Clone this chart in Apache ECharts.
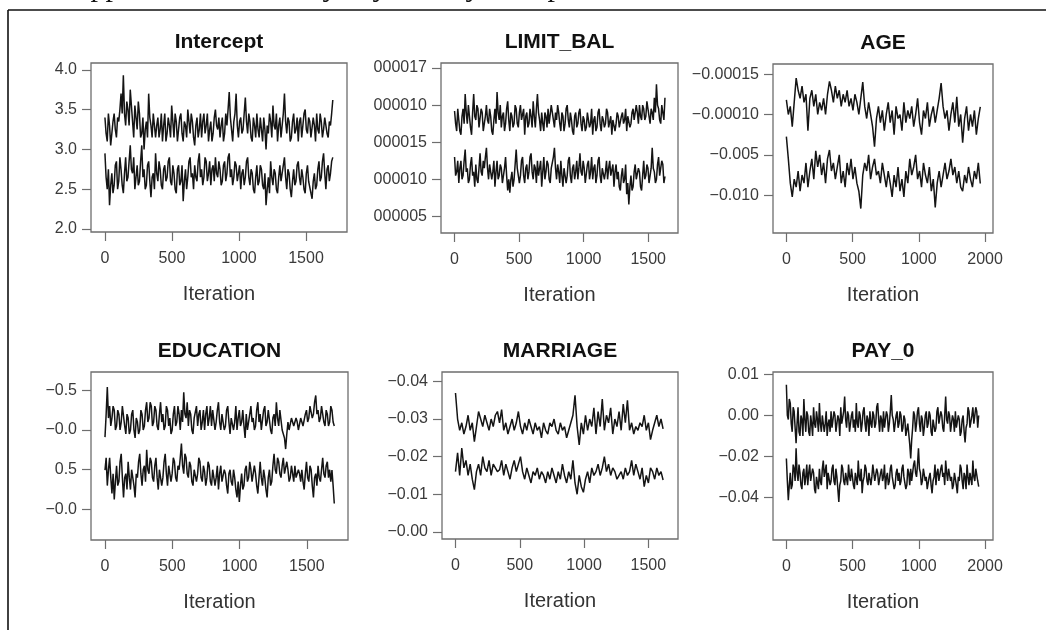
<!DOCTYPE html>
<html>
<head>
<meta charset="utf-8">
<title>Trace plots</title>
<script src="https://cdn.jsdelivr.net/npm/echarts@6/dist/echarts.min.js"></script>
<style>
  html, body { margin: 0; padding: 0; background: #fff; }
  #chart { width: 1046px; height: 630px; }
</style>
</head>
<body>
<div id="chart"></div>
<script>
// two MCMC chains per coefficient, thinned; y values are in tick-slot units
// (slot 0 = lowest tick label, slot 1 = next one up ...), since the printed labels are not a real scale
var interceptA = [2.8,2.4,2.2,2.9,2.6,2.1,2.4,2.7,2.9,2.5,2.3,2.8,2.7,3.0,3.4,2.9,3.86,2.9,2.6,3.2,3.0,2.6,3.5,3.1,2.7,2.3,3.1,2.8,2.5,3.2,2.9,2.3,2.4,2.8,2.0,2.5,2.7,2.3,3.4,2.8,2.6,2.3,2.9,2.6,2.3,2.6,2.8,2.3,2.5,2.9,2.2,2.6,2.9,2.2,2.4,2.8,2.6,2.3,3.1,2.7,2.3,2.9,2.7,2.2,2.5,2.8,2.9,2.4,2.2,2.7,2.6,2.3,3.0,2.7,2.4,2.9,2.7,2.3,2.1,2.6,2.8,2.3,2.5,2.9,2.3,2.7,2.9,2.4,2.6,2.9,2.2,2.5,2.7,2.2,2.4,2.8,3.0,2.6,2.5,2.8,2.3,2.6,2.8,2.2,2.4,2.9,2.6,3.0,3.44,2.8,2.5,2.2,2.7,2.9,3.4,2.6,2.3,2.7,2.8,2.4,2.5,2.9,3.3,2.7,2.4,2.9,2.7,2.3,2.2,2.8,2.6,2.3,2.9,2.5,2.3,2.8,2.5,2.2,2.8,2.5,2.0,2.6,2.4,2.9,2.7,2.3,3.1,2.6,2.5,2.9,2.2,2.6,2.8,2.3,2.6,2.9,3.4,2.7,2.4,2.8,2.7,2.2,2.3,2.7,2.9,2.4,2.5,2.8,2.2,2.7,2.8,2.3,2.6,2.9,3.0,2.5,2.4,2.8,2.7,2.3,2.3,2.8,2.6,2.2,2.9,2.5,2.4,2.9,2.7,2.3,2.5,2.8,2.8,2.4,2.3,2.7,2.6,2.9,3.24];
var interceptB = [1.9,1.3,1.0,1.5,0.6,1.1,1.4,0.9,1.1,1.6,1.7,1.0,1.2,1.8,1.5,1.1,0.9,1.4,1.8,1.2,1.3,1.7,2.1,1.5,1.4,1.8,1.0,1.3,1.6,1.1,1.2,1.7,2.1,1.3,1.5,1.0,1.1,1.6,1.7,1.2,0.8,1.3,1.4,1.0,1.9,1.4,1.2,1.7,1.5,1.1,1.0,1.5,1.6,1.2,1.3,1.7,1.8,1.2,1.1,1.6,1.4,1.0,0.9,1.5,1.6,1.1,1.2,1.6,0.7,1.2,1.5,1.0,1.3,1.7,1.8,1.3,1.4,1.0,1.6,1.3,1.2,1.7,1.9,1.3,1.5,1.1,1.3,1.8,1.7,1.2,1.4,1.7,1.1,1.5,1.6,1.2,1.8,1.4,1.3,1.7,1.5,1.1,1.2,1.6,1.7,1.2,1.4,1.8,1.9,1.3,1.5,1.1,1.3,1.7,1.6,1.2,1.2,1.6,1.0,1.4,1.5,1.1,1.3,1.7,1.8,1.3,1.1,1.5,1.4,1.0,0.9,1.3,1.6,1.1,1.2,1.6,1.5,1.1,1.0,1.4,0.6,1.0,1.3,0.9,1.7,1.3,1.1,1.5,1.4,1.0,0.9,1.3,1.6,1.2,1.2,1.6,1.8,1.3,1.0,1.5,1.4,1.0,0.8,1.2,1.5,1.1,1.2,1.6,1.7,1.3,1.1,1.5,1.3,1.0,0.9,1.4,1.6,1.2,1.2,0.9,0.76,1.2,1.4,1.0,1.1,1.5,1.7,1.2,1.3,1.7,1.9,1.4,1.0,1.5,1.6,1.2,1.4,1.7,1.8];
var limitBalA = [2.84,2.5,2.3,2.9,2.6,2.3,2.2,2.7,2.9,2.5,3.3,2.8,2.5,3.0,2.7,2.4,2.2,2.8,3.3,2.7,2.6,3.0,2.9,2.4,2.4,2.9,2.8,2.3,2.3,2.7,3.0,2.6,2.5,2.9,2.7,2.3,2.2,2.6,2.9,2.5,3.35,2.8,2.6,3.0,2.4,2.7,2.8,2.3,2.5,2.9,3.1,2.6,2.3,2.8,2.7,2.4,2.5,3.0,2.9,2.5,2.4,2.8,3.0,2.6,2.6,2.9,2.2,2.7,2.8,2.4,2.5,2.9,2.7,2.4,3.1,2.7,2.4,2.9,3.3,2.8,2.6,2.3,2.8,2.5,2.3,2.8,2.7,2.4,2.9,2.5,2.5,3.0,3.0,2.6,2.4,2.8,2.6,3.0,2.8,2.5,2.3,2.8,2.7,2.3,2.5,2.9,3.0,2.6,2.4,2.8,2.6,2.3,2.2,2.7,2.8,2.4,2.5,2.8,2.9,2.5,2.3,2.7,2.6,2.3,2.4,2.8,2.8,2.4,2.5,2.9,2.2,2.6,2.7,2.3,2.4,2.8,2.9,2.5,2.3,2.7,2.6,2.4,2.5,2.9,2.8,2.4,2.4,2.7,2.2,2.6,2.6,2.3,2.5,2.8,2.7,2.4,2.4,2.7,2.8,2.5,2.6,2.9,2.3,2.7,2.7,2.4,2.5,2.8,2.9,2.6,2.6,3.0,2.8,2.5,3.0,2.7,2.6,3.0,2.9,2.6,2.7,3.1,3.1,2.7,2.5,2.9,2.8,2.6,3.2,2.8,3.56,3.0,2.9,2.6,2.5,3.0,2.8,2.6,3.2];
var limitBalB = [1.6,1.1,1.2,1.5,0.9,1.3,1.5,1.0,1.1,1.5,1.8,1.2,1.3,0.9,1.0,1.4,1.6,1.1,1.2,0.8,1.4,1.0,0.9,1.3,1.7,1.2,1.1,1.5,1.3,1.6,1.85,1.3,1.0,1.4,1.4,1.0,1.2,1.5,0.8,1.2,1.5,1.0,1.1,1.4,1.3,0.9,0.9,1.3,1.6,1.1,0.7,1.0,0.64,1.0,1.2,0.8,1.0,1.4,1.8,1.3,1.3,0.9,1.1,1.5,1.6,1.1,0.9,1.3,1.4,1.0,1.2,1.6,1.7,1.2,1.0,1.4,1.3,0.9,1.5,1.1,1.1,1.5,0.8,1.2,1.6,1.0,1.2,1.5,1.4,1.0,0.9,1.3,1.3,1.6,1.85,1.3,1.0,1.4,1.2,0.9,1.5,1.1,0.8,1.3,1.3,0.9,1.1,1.5,1.6,1.1,0.9,1.3,1.4,1.0,1.2,1.5,1.0,1.3,1.7,1.2,1.1,1.5,1.3,0.9,0.9,1.4,1.5,1.0,1.2,1.6,1.0,1.3,1.4,0.9,1.1,1.5,1.6,1.1,0.9,1.3,1.3,1.0,1.2,1.5,1.0,1.3,1.5,1.1,1.1,1.4,0.8,1.2,1.4,1.0,1.2,0.8,0.7,1.1,1.3,0.9,1.0,1.4,0.6,0.9,0.32,0.8,1.1,0.7,0.8,1.2,1.4,1.0,1.0,1.3,1.2,0.8,0.7,1.1,1.5,1.0,1.1,1.4,1.3,0.9,0.9,1.3,1.85,1.3,1.2,0.9,1.0,1.4,1.6,1.1,1.1,1.5,1.4,0.9,1.08];
var ageA = [2.36,2.0,2.2,1.7,2.3,2.9,2.6,2.4,2.7,2.3,2.5,1.6,2.4,2.6,2.2,2.5,2.0,2.3,2.1,2.4,2.0,2.5,2.82,2.6,2.3,2.7,2.4,2.6,2.2,2.5,2.3,2.6,2.2,2.4,2.1,2.5,2.3,2.0,2.4,2.8,2.2,1.9,2.3,2.0,1.7,1.2,1.9,2.2,1.8,2.1,1.6,2.0,2.3,1.8,2.1,1.5,2.2,1.9,2.0,1.6,2.3,1.8,2.1,1.9,2.2,1.7,2.0,2.4,1.8,1.5,2.1,1.9,2.3,1.7,2.0,2.2,1.8,2.1,2.4,2.78,2.2,1.9,2.1,1.6,2.0,2.3,1.8,2.44,1.7,2.0,1.3,1.9,2.2,1.6,2.0,1.7,2.1,1.5,1.9,2.19];
var ageB = [1.45,0.9,0.3,-0.04,0.4,0.2,0.6,0.1,0.5,0.3,0.8,0.2,0.6,0.9,0.4,1.1,0.7,1.0,0.5,0.8,0.3,0.9,1.12,0.6,0.8,0.4,0.7,1.0,0.3,0.6,0.2,0.8,0.5,0.9,0.4,0.7,0.3,0.1,-0.33,0.5,0.8,0.6,1.0,0.4,0.7,0.9,0.5,0.6,0.3,0.8,0.5,0.2,0.6,0.3,-0.04,0.5,0.2,0.7,0.1,0.4,-0.04,0.6,0.3,0.9,0.5,0.7,1.0,0.4,0.6,0.2,0.8,0.5,0.3,0.7,0.1,0.4,-0.3,0.3,0.6,0.2,0.5,0.8,0.4,0.6,0.9,0.5,0.7,0.3,0.6,0.2,0.1,0.5,0.3,0.7,0.4,0.2,0.6,0.4,0.8,0.29];
var educationA = [1.82,2.4,3.08,2.3,2.6,2.1,2.3,2.6,2.5,2.0,2.1,2.5,2.4,2.0,2.2,2.6,2.6,2.1,1.9,2.4,2.3,1.9,2.0,2.4,2.5,2.0,1.8,2.3,2.2,1.9,2.0,2.5,2.4,2.0,2.1,2.5,2.7,2.2,2.3,2.7,2.6,2.1,2.2,2.6,2.5,2.1,2.0,2.4,2.7,2.2,2.4,2.0,2.1,2.6,2.5,2.1,2.3,1.9,2.0,2.4,2.6,2.1,2.2,2.6,2.4,2.0,2.5,2.2,2.95,2.4,2.3,2.7,2.1,2.5,2.4,2.0,1.9,2.3,2.3,2.6,2.1,2.4,2.5,2.0,2.2,2.5,2.0,2.4,2.6,2.1,2.3,2.6,2.1,2.5,2.5,2.0,2.2,2.5,2.7,2.2,2.0,2.4,2.4,2.0,2.1,2.5,2.6,2.2,1.9,2.3,2.3,2.0,2.2,2.6,2.0,2.3,2.5,2.1,2.2,2.5,2.1,1.8,2.4,2.0,2.0,2.4,2.6,2.2,2.3,2.0,2.1,2.5,2.7,2.2,2.4,2.0,2.0,2.5,2.6,2.1,2.2,2.5,2.5,2.0,1.9,2.3,2.4,2.1,2.7,2.3,2.1,2.5,2.5,2.0,2.0,1.8,1.52,1.9,2.2,2.0,2.0,2.3,2.3,2.1,2.1,2.3,2.2,2.0,2.0,2.3,2.3,2.1,2.1,2.4,2.5,2.2,2.3,2.6,2.6,2.3,2.4,2.7,2.87,2.4,2.5,2.2,2.3,2.6,2.6,2.2,2.1,2.5,2.4,2.1,2.2,2.6,2.5,2.2,2.1];
var educationB = [0.99,1.3,0.6,1.0,1.3,0.8,0.4,0.9,0.25,0.7,1.1,0.6,0.7,1.2,1.4,0.8,0.3,0.8,0.9,0.5,1.2,0.8,0.5,1.0,1.0,0.6,0.3,0.9,0.8,1.2,1.4,0.9,0.6,1.0,1.1,0.7,1.5,1.0,0.9,1.3,1.2,0.8,0.7,1.1,1.3,0.8,0.5,1.0,1.0,0.6,0.8,1.2,1.4,0.9,0.6,1.1,1.1,0.7,0.9,1.3,1.2,0.8,0.7,1.1,1.0,1.3,1.66,1.1,0.9,1.4,1.3,0.9,0.8,1.2,1.1,0.7,0.6,1.0,1.0,0.7,0.9,1.3,1.2,0.8,0.7,1.1,0.95,0.6,0.8,1.2,1.1,0.7,0.6,1.0,1.0,0.6,0.8,1.1,0.5,0.9,1.1,0.7,0.7,1.0,0.9,0.6,0.4,0.9,1.0,0.7,0.6,1.0,0.8,0.5,0.3,0.7,0.19,0.6,0.9,0.5,0.6,1.0,1.1,0.7,0.8,1.2,1.0,0.7,0.7,1.1,0.9,0.6,0.4,0.8,1.2,0.8,0.6,1.0,0.8,0.5,0.3,0.8,1.0,0.6,0.7,1.1,1.4,1.0,0.9,1.3,1.2,0.9,0.8,1.1,1.3,0.9,0.9,1.2,1.0,0.7,0.8,1.1,0.9,0.7,1.1,0.8,0.8,1.0,0.9,0.7,1.0,0.7,0.5,0.9,1.2,0.8,0.7,1.1,1.0,0.6,0.3,0.8,0.9,0.6,1.1,0.8,0.7,1.0,1.3,0.9,0.8,1.1,1.2,0.8,1.0,0.7,0.99,0.6,0.15];
var marriageA = [3.69,3.0,2.7,2.9,2.6,2.8,3.1,2.7,2.9,2.4,2.8,3.2,3.0,2.8,3.1,2.9,2.7,3.0,2.8,3.1,3.2,2.9,3.25,2.7,2.9,2.6,2.8,3.0,2.7,2.9,3.2,2.8,2.6,2.9,2.7,3.0,2.8,2.6,2.9,2.7,2.8,2.5,2.9,2.7,2.6,2.9,2.8,3.0,2.7,2.6,2.9,2.7,2.8,2.5,2.7,2.9,3.1,3.63,2.8,2.31,2.9,2.6,3.1,2.7,3.0,2.8,3.3,2.6,3.2,2.8,3.53,2.7,3.1,2.9,3.3,2.6,3.0,2.8,3.2,2.7,3.4,2.9,3.5,2.7,2.9,2.6,2.8,2.7,2.9,2.8,3.1,2.7,2.9,2.45,2.7,2.9,3.1,2.8,3.0,2.74];
var marriageB = [1.6,2.1,1.5,2.23,1.7,1.9,1.5,1.8,1.4,1.12,1.6,1.8,1.5,2.0,1.7,1.6,1.9,1.5,1.8,1.7,1.6,1.65,1.9,1.5,1.8,1.6,1.4,1.7,1.9,1.6,1.8,2.0,1.6,1.4,1.7,1.5,1.3,1.6,1.5,1.7,1.4,1.6,1.5,1.3,1.6,1.4,1.7,1.5,1.3,1.6,1.4,1.8,1.5,1.3,1.6,1.4,1.9,1.3,1.0,1.5,1.2,1.05,1.4,1.6,1.3,1.7,1.5,1.6,1.8,1.5,1.7,2.0,1.6,1.8,1.5,1.7,1.6,1.4,1.5,1.6,1.4,1.7,1.5,1.6,1.9,1.5,1.8,1.6,1.4,1.7,1.2,1.5,1.3,1.7,1.6,1.4,1.7,1.5,1.6,1.38];
var pay0A = [2.75,2.0,1.9,2.4,2.3,1.8,1.6,2.2,2.1,1.7,1.32,1.8,2.2,1.6,1.5,2.0,1.9,1.5,2.4,1.9,1.6,2.1,2.0,1.6,1.5,2.0,1.8,1.5,2.2,1.8,1.7,2.1,1.9,1.6,2.3,1.8,1.6,2.0,2.0,1.6,1.8,2.1,1.5,1.8,1.9,1.6,2.1,1.7,1.7,2.1,2.0,1.6,1.6,2.0,1.9,1.5,2.2,1.8,1.8,2.1,2.46,1.9,1.7,2.1,2.0,1.6,1.6,2.0,2.1,1.7,1.9,1.6,2.3,1.8,1.7,2.1,2.0,1.6,1.8,2.1,2.2,1.8,1.6,2.0,1.9,1.5,2.1,1.8,1.7,2.1,2.0,1.7,1.8,2.2,2.3,1.9,1.6,2.0,1.9,1.6,2.1,1.7,1.7,2.1,2.0,1.6,1.8,2.1,2.5,2.0,1.9,1.6,1.6,2.0,2.1,1.7,1.8,2.1,2.0,1.6,1.7,2.0,1.9,1.5,1.5,1.8,1.8,1.3,0.95,1.4,1.7,2.1,2.0,1.6,1.8,2.1,2.2,1.8,1.6,2.0,1.9,1.5,1.7,2.0,2.1,1.7,1.8,2.1,2.0,1.6,1.5,1.9,1.9,1.6,1.7,2.1,2.2,1.8,1.8,2.1,2.0,1.7,1.6,2.0,2.46,1.9,1.8,2.1,2.0,1.6,1.6,2.0,1.9,1.6,2.1,1.7,1.7,2.0,1.9,1.5,1.6,1.9,2.0,1.6,1.34,1.7,1.8,2.2,2.1,1.7,1.7,2.0,2.2,1.8,1.8,2.2,2.1,1.7,2.0];
var pay0B = [0.95,0.4,-0.07,0.3,0.6,0.2,0.3,0.8,0.7,0.4,1.2,0.6,0.4,0.8,0.6,0.3,0.2,0.6,0.7,0.3,0.5,0.8,0.3,0.6,0.8,0.4,0.4,0.7,0.6,0.2,0.1,0.5,0.5,0.2,0.7,0.4,0.3,0.7,0.9,0.5,0.5,0.8,0.2,0.6,0.6,0.3,0.4,0.7,0.8,0.4,0.3,0.7,0.5,0.2,-0.11,0.3,0.4,0.8,0.7,0.4,0.3,0.6,0.6,0.3,0.8,0.5,0.4,0.7,0.5,0.3,0.2,0.6,0.6,0.3,0.9,0.5,0.4,0.7,0.1,0.4,0.5,0.8,0.7,0.4,0.3,0.6,0.6,0.3,0.5,0.8,0.8,0.4,0.4,0.7,0.6,0.3,0.3,0.6,0.7,0.4,0.5,0.8,0.2,0.5,0.6,0.3,0.4,0.7,0.8,0.5,0.5,0.2,0.3,0.6,0.7,0.4,0.6,0.3,0.4,0.7,0.8,0.5,0.5,0.2,0.3,0.7,0.6,0.3,0.7,0.4,0.4,0.8,0.9,0.6,0.5,0.8,1.2,0.7,0.6,0.3,0.4,0.7,0.7,0.4,0.5,0.2,0.2,0.5,0.6,0.3,0.1,0.4,0.5,0.8,0.3,0.6,0.7,0.4,0.4,0.7,0.8,0.5,0.6,0.3,0.9,0.6,0.4,0.7,0.7,0.4,0.5,0.2,0.3,0.6,0.6,0.3,0.1,0.5,0.4,0.8,0.7,0.4,0.2,0.6,0.5,0.2,0.8,0.5,0.3,0.6,0.6,0.3,0.9,0.5,0.4,0.7,0.7,0.4,0.26];

// tick labels as printed, bottom to top
var M = '\u2212';
var interceptTicks = ['2.0', '2.5', '3.0', '3.5', '4.0'];
var limitBalTicks = ['000005', '000010', '000015', '000010', '000017'];
var ageTicks = [M + '0.010', M + '0.005', M + '0.00010', M + '0.00015'];
var educationTicks = [M + '0.0', '0.5', M + '0.0', M + '0.5'];
var marriageTicks = [M + '0.00', M + '0.01', M + '0.02', M + '0.03', M + '0.04'];
var pay0Ticks = [M + '0.04', M + '0.02', '0.00', '0.01'];

var iterTickPos = [0, 500, 1000, 1500];
var iterTicks = ['0', '500', '1000', '1500'];
var iterTicksRight = ['0', '500', '1000', '2000'];

// last iteration of each panel's traces
var lastIter = { Intercept: 1700, LIMIT_BAL: 1630, AGE: 1464, EDUCATION: 1704, MARRIAGE: 1615, PAY_0: 1452 };

var FONT = "'Liberation Sans', Arial, Helvetica, sans-serif";

var panels = [
  { name: 'Intercept', a: interceptA, b: interceptB, yl: interceptTicks, xl: iterTicks,
    grid: [91, 63, 256, 169], x: [-104, 1806], y: [-0.075, 4.17] },
  { name: 'LIMIT_BAL', a: limitBalA, b: limitBalB, yl: limitBalTicks, xl: iterTicks,
    grid: [441, 63, 237, 170], x: [-105, 1731], y: [-0.447, 4.135] },
  { name: 'AGE', a: ageA, b: ageB, yl: ageTicks, xl: iterTicksRight,
    grid: [773, 64, 220, 169], x: [-101, 1560], y: [-0.935, 3.25] },
  { name: 'EDUCATION', a: educationA, b: educationB, yl: educationTicks, xl: iterTicks,
    grid: [91, 372, 257, 168], x: [-104, 1806], y: [-0.77, 3.46] },
  { name: 'MARRIAGE', a: marriageA, b: marriageB, yl: marriageTicks, xl: iterTicks,
    grid: [442, 372, 236, 167], x: [-105, 1731], y: [-0.19, 4.25] },
  { name: 'PAY_0', a: pay0A, b: pay0B, yl: pay0Ticks, xl: iterTicksRight,
    grid: [773, 372, 220, 168], x: [-101, 1560], y: [-1.04, 3.06] }
];

function toPoints(vals, last) {
  var step = last / (vals.length - 1);
  return vals.map(function (v, k) { return [k * step, v]; });
}

var grids = [], xAxes = [], yAxes = [], series = [], graphics = [];

panels.forEach(function (p, i) {
  grids.push({
    left: p.grid[0], top: p.grid[1], width: p.grid[2], height: p.grid[3],
    show: true, borderColor: '#6e6e6e', borderWidth: 1.3, backgroundColor: 'transparent',
    outerBoundsMode: 'none'
  });
  var xl = p.xl;
  xAxes.push({
    type: 'value', gridIndex: i, min: p.x[0], max: p.x[1],
    splitLine: { show: false },
    axisLine: { show: false, onZero: false },
    axisTick: { show: true, inside: false, length: 9, customValues: iterTickPos, lineStyle: { color: '#6e6e6e', width: 1.2 } },
    axisLabel: {
      customValues: iterTickPos, margin: 19, fontSize: 16, color: '#3a3a3a', fontFamily: FONT,
      formatter: function (v) { return xl[iterTickPos.indexOf(v)]; }
    },
    name: 'Iteration', nameLocation: 'middle', nameGap: 52, nameMoveOverlap: false,
    nameTextStyle: { fontSize: 20, color: '#333', fontFamily: FONT, verticalAlign: 'top' }
  });
  var yl = p.yl;
  var yPos = yl.map(function (s, k) { return k; });
  yAxes.push({
    type: 'value', gridIndex: i, min: p.y[0], max: p.y[1],
    splitLine: { show: false },
    axisLine: { show: false, onZero: false },
    axisTick: { show: true, inside: false, length: 9, customValues: yPos, lineStyle: { color: '#6e6e6e', width: 1.2 } },
    axisLabel: {
      customValues: yPos, margin: 14, fontSize: 16, color: '#3a3a3a', fontFamily: FONT,
      formatter: function (v) { return yl[Math.round(v)]; }
    }
  });
  [p.a, p.b].forEach(function (chain) {
    series.push({
      type: 'line', xAxisIndex: i, yAxisIndex: i,
      data: toPoints(chain, lastIter[p.name]),
      showSymbol: false, symbol: 'none', silent: true,
      lineStyle: { color: '#141414', width: 1.5 }
    });
  });
  graphics.push({
    type: 'text', x: p.grid[0] + p.grid[2] / 2, y: p.grid[1] - 21,
    style: { text: p.name, fontSize: 21, fontWeight: 'bold', fill: '#111', fontFamily: FONT,
             align: 'center', verticalAlign: 'middle' }
  });
});

// page frame and the clipped line of text above it
graphics.push({ type: 'line', shape: { x1: 8, y1: 10, x2: 1046, y2: 10 }, style: { stroke: '#111', lineWidth: 1.6 } });
graphics.push({ type: 'line', shape: { x1: 8, y1: 10, x2: 8, y2: 630 }, style: { stroke: '#111', lineWidth: 1.6 } });
[[98, 'p'], [113, 'p'], [330, 'y'], [380, 'y'], [473, 'y'], [555, 'p']].forEach(function (g) {
  graphics.push({
    type: 'text', x: g[0], y: 3,
    style: { text: g[1], fontSize: 30, fill: '#111', fontFamily: "'Liberation Serif', 'Times New Roman', serif",
             align: 'center', verticalAlign: 'bottom' }
  });
});

var chart = echarts.init(document.getElementById('chart'), null, { renderer: 'canvas' });
chart.setOption({
  backgroundColor: '#fff',
  animation: false,
  grid: grids,
  xAxis: xAxes,
  yAxis: yAxes,
  series: series,
  graphic: graphics
});
</script>
</body>
</html>
